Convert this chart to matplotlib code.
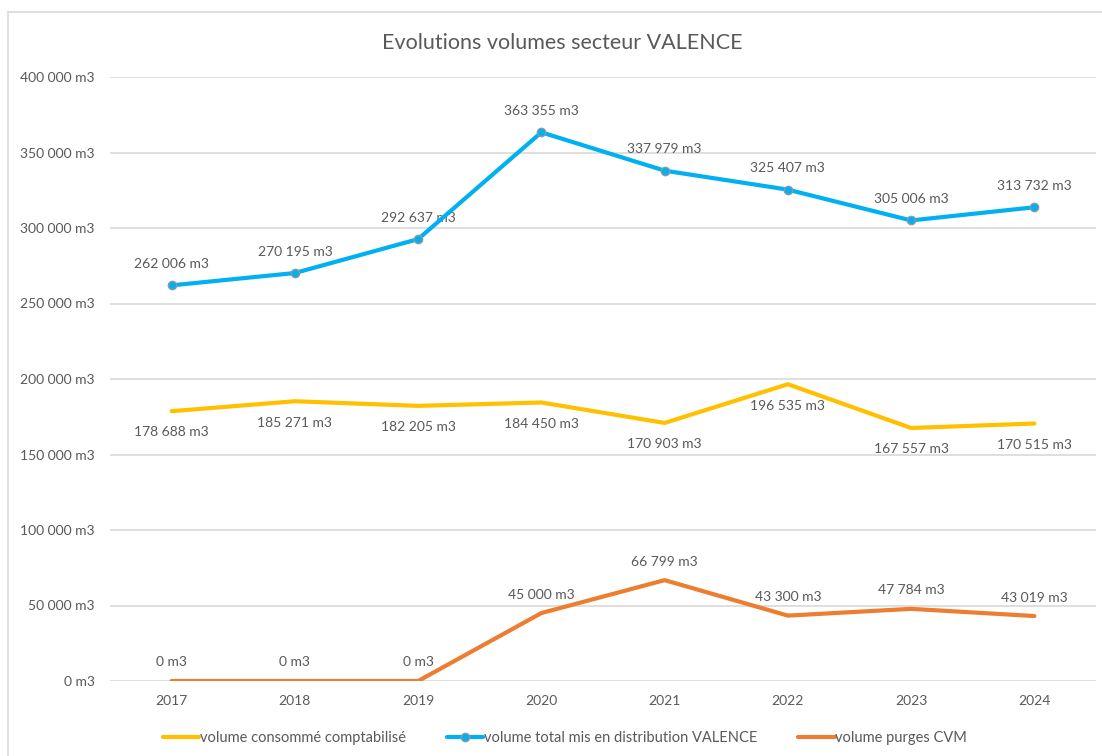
import matplotlib
matplotlib.use("Agg")
import matplotlib.pyplot as plt
from matplotlib.patches import Rectangle

years = ["2017", "2018", "2019", "2020", "2021", "2022", "2023", "2024"]
consomme = [178688, 185271, 182205, 184450, 170903, 196535, 167557, 170515]
distribution = [262006, 270195, 292637, 363355, 337979, 325407, 305006, 313732]
purges = [0, 0, 0, 45000, 66799, 43300, 47784, 43019]

names = ["volume consommé comptabilisé",
         "volume total mis en distribution VALENCE",
         "volume purges CVM"]
yticks = [0, 50000, 100000, 150000, 200000, 250000, 300000, 350000, 400000]

plt.rcParams['font.family'] = ['Lato', 'DejaVu Sans']
txt = '#595959'

def fmt(v):
    return f"{v:,}".replace(",", " ") + " m3"

fig = plt.figure(figsize=(11.02, 7.56), dpi=100)
fig.patches.append(Rectangle((8/1102, -0.1), 1.2, 1 - 12/756 + 0.1,
                             transform=fig.transFigure, fill=False,
                             edgecolor='#d9d9d9', linewidth=1.2))
ax = fig.add_axes([110/1102, 1 - 681/756, (1096 - 110)/1102, (681 - 77)/756])

x = list(range(len(years)))
l1, = ax.plot(x, consomme, color='#FFC000', lw=3, solid_capstyle='round', zorder=3)
l2, = ax.plot(x, distribution, color='#00B0F0', lw=3, marker='o', markersize=6,
              markerfacecolor='#00B0F0', markeredgecolor='#8c9aa5', markeredgewidth=1,
              solid_capstyle='round', zorder=4)
l3, = ax.plot(x, purges, color='#ED7D31', lw=3, solid_capstyle='round', zorder=3)

for xi, v in zip(x, distribution):
    ax.annotate(fmt(v), (xi, v), xytext=(0, 11), textcoords='offset points',
                ha='center', va='bottom', fontsize=10, color=txt)
for xi, v in zip(x, consomme):
    ax.annotate(fmt(v), (xi, v), xytext=(0, -11), textcoords='offset points',
                ha='center', va='top', fontsize=10, color=txt)
for xi, v in zip(x, purges):
    ax.annotate(fmt(v), (xi, v), xytext=(0, 9), textcoords='offset points',
                ha='center', va='bottom', fontsize=10, color=txt)

ax.set_xlim(-0.5, len(years) - 0.5)
ax.set_ylim(0, 400000)
ax.set_yticks(yticks)
ax.set_yticklabels([fmt(v) for v in yticks])
ax.set_xticks(x)
ax.set_xticklabels(years)
ax.tick_params(axis='both', length=0, labelsize=10, labelcolor=txt)
ax.tick_params(axis='y', pad=11)
ax.tick_params(axis='x', pad=10)
ax.grid(axis='y', color='#d9d9d9', lw=1.2)
ax.set_axisbelow(True)
for s in ax.spines.values():
    s.set_visible(False)

fig.text(562/1102, 1 - 43/756, "Evolutions volumes secteur VALENCE",
         ha='center', va='center', fontsize=15.5, color=txt)

fig.legend([l1, l2, l3], names, loc='center', bbox_to_anchor=(565/1102, 1 - 738/756),
           ncol=3, frameon=False, fontsize=10.5, labelcolor=txt, handlelength=2.5,
           handletextpad=0.05, columnspacing=2.8)

fig.savefig("out.png", dpi=100)
